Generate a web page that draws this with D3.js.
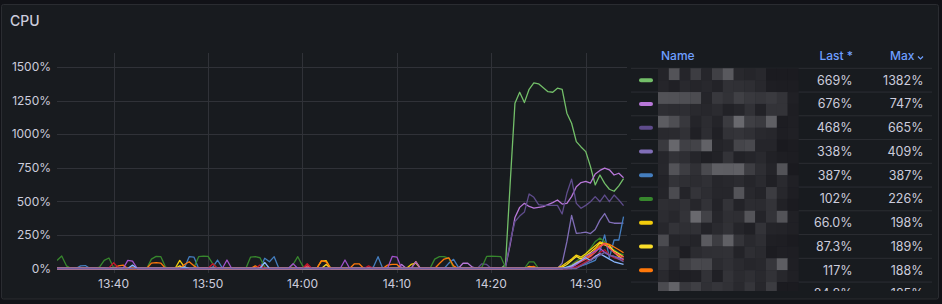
<!DOCTYPE html>
<html><head><meta charset="utf-8">
<script src="https://cdn.jsdelivr.net/npm/d3@7"></script>
<style>
html,body{margin:0;padding:0;background:#111217;}
svg{display:block;font-family:Inter,"Noto Sans",sans-serif;}
</style></head><body>
<svg id="c" width="942" height="304"></svg>
<script>
// ---------------- data ----------------
const panelTitle = "CPU";
const startTime = new Date(2024, 0, 1, 13, 34, 0);
const endTime = new Date(2024, 0, 1, 14, 34, 22);
const stepSeconds = 30;
const yTicks = [0, 250, 500, 750, 1000, 1250, 1500];
const xTicks = ["13:40", "13:50", "14:00", "14:10", "14:20", "14:30"];
const legendHeaders = ["Name", "Last *", "Max"];

// 121 samples each, 30 s apart, 13:34:00 .. 14:34:00 (percent)
const s1 = [
 0,0,0,0,0,0,0,0,0,0, 0,0,0,0,0,0,0,0,0,0, 0,0,0,0,0,0,0,0,0,0,
 0,0,0,0,0,0,0,0,0,0, 0,0,0,0,0,0,0,0,0,0, 0,0,0,0,0,0,0,0,0,0,
 0,0,0,0,0,0,0,0,0,0, 0,0,0,0,0,0,0,0,0,0, 0,0,0,0,0,0,0,0,0,0,
 0,0,0,0,0,30,640,1230,1312,1235, 1334,1382,1375,1346,1316,1312,1342,1334,1156,1081,
 944,905,870,758,622,696,634,590,575,615, 669];
const s2 = [
 0,0,0,0,0,0,0,0,0,0, 0,0,0,0,0,0,0,0,0,0, 0,0,0,0,0,0,0,0,0,0,
 0,0,0,0,0,0,0,0,0,0, 0,0,0,0,0,0,0,0,0,0, 0,0,0,0,0,0,0,0,0,0,
 0,0,0,0,0,0,0,0,0,0, 0,0,0,30,0,0,0,0,0,0, 0,0,0,0,0,0,39,39,10,0,
 0,0,0,0,0,10,180,380,455,485, 462,450,455,460,475,490,510,480,485,535,
 609,640,648,636,704,730,747,735,696,709, 676];
const s3 = [
 0,0,0,0,0,0,0,0,0,0, 0,0,0,0,0,0,0,0,0,0, 0,0,0,0,0,0,0,0,0,0,
 0,0,0,0,0,0,0,0,0,0, 0,0,0,0,0,0,0,0,0,0, 0,0,0,0,0,0,0,0,0,0,
 0,0,0,0,0,0,0,0,0,0, 0,0,0,0,0,0,0,0,0,0, 0,0,0,0,0,0,0,0,0,0,
 35,30,0,0,0,10,200,350,390,420, 555,530,475,470,470,470,470,406,560,665,
 485,448,470,497,535,497,547,497,547,510, 468];
const s4 = [
 0,0,0,0,0,0,0,0,0,0, 0,0,0,0,0,0,0,0,0,0, 0,0,0,0,0,0,0,0,0,0,
 0,0,0,0,0,0,0,0,0,0, 0,0,0,0,0,0,0,0,0,0, 0,0,0,0,0,0,0,0,0,0,
 0,0,0,0,0,0,0,0,0,0, 0,0,0,0,0,0,0,0,0,0, 0,0,0,0,0,0,0,0,0,0,
 0,0,0,0,0,0,0,0,0,0, 0,0,0,0,0,0,0,40,200,395,
 262,265,270,260,290,360,409,345,337,337, 338];
const s5 = [
 0,0,0,0,0,20,22,0,0,0, 0,0,0,0,0,0,0,0,0,0, 0,0,0,0,0,0,0,5,88,85,
 0,0,0,10,63,5,0,0,0,0, 0,0,0,0,76,50,88,0,0,0, 0,0,0,0,0,0,0,0,0,0,
 0,0,0,0,0,0,0,10,88,0, 0,0,0,0,0,0,0,0,0,0, 0,0,0,40,68,10,0,0,0,0,
 0,0,0,0,0,0,0,0,0,0, 0,0,0,0,0,0,0,0,0,0,
 10,20,30,45,60,130,250,80,212,212, 387];
const s6 = [
 60,93,20,0,0,0,0,0,0,10, 60,78,5,0,0,0,0,0,0,0, 70,90,88,10,0,0,0,0,0,5,
 88,92,90,35,0,0,0,0,0,0, 0,85,88,80,10,0,0,0,0,0, 30,88,20,0,0,0,0,0,0,0,
 0,0,0,0,0,0,0,0,0,0, 0,0,0,0,0,0,0,0,0,0, 70,88,88,75,5,0,0,0,0,0,
 10,90,92,90,88,10,0,0,0,0, 50,50,0,0,0,0,0,0,10,30,
 55,80,110,150,200,226,200,160,140,115, 102];
const s7 = [
 0,0,0,0,0,0,0,0,0,0, 0,0,0,0,0,0,0,0,0,0, 0,0,0,0,0,0,60,10,0,0,
 0,0,0,0,0,0,0,0,0,0, 0,0,0,0,0,0,0,0,0,0, 0,0,0,0,0,0,55,58,0,0,
 0,0,0,0,0,0,0,0,0,0, 0,0,0,0,0,30,40,0,0,0, 0,0,0,0,0,0,0,0,0,0,
 0,0,0,0,0,0,0,0,0,0, 10,5,0,0,0,0,5,20,45,70,
 100,85,110,140,170,198,185,175,120,90, 66];
const s8 = [
 0,0,0,0,0,0,0,0,0,0, 0,0,0,0,0,0,0,0,0,0, 0,0,0,0,0,0,20,0,0,0,
 0,0,0,0,0,0,0,0,0,0, 0,0,0,0,0,0,0,0,0,0, 0,0,0,0,0,0,0,30,0,0,
 0,0,0,0,0,0,0,0,0,0, 0,0,0,0,0,0,51,0,0,0, 0,0,0,0,0,0,0,0,0,0,
 0,0,0,0,0,0,0,0,0,0, 15,10,0,0,0,0,0,10,30,60,
 90,70,95,120,150,189,175,160,130,110, 87.3];
const s9 = [
 0,0,0,0,0,0,0,0,0,0, 0,0,0,20,25,0,0,0,0,0, 40,43,40,0,0,0,0,30,50,20,
 0,0,0,0,0,0,0,0,0,0, 0,0,20,0,0,0,0,0,0,0, 0,0,0,0,0,0,58,50,0,0,
 0,0,0,35,35,0,0,0,0,0, 25,30,30,0,0,0,0,0,0,0, 0,37,70,80,20,0,0,0,0,0,
 0,0,0,0,0,0,0,0,0,0, 10,15,0,0,0,0,0,0,5,20,
 45,60,80,100,140,170,188,180,160,140, 117];
const s10 = [
 0,0,0,0,0,0,0,0,0,0, 0,0,0,0,0,0,0,0,0,0, 0,0,0,0,0,0,0,0,0,0,
 0,0,0,0,0,0,0,0,0,0, 0,0,0,0,0,0,0,0,0,0, 0,0,0,20,0,0,0,0,0,0,
 0,0,0,0,0,0,0,0,0,0, 0,0,0,0,0,0,0,0,0,0, 0,0,0,0,0,0,0,0,0,0,
 0,0,0,0,0,0,0,0,0,0, 0,0,0,0,0,0,0,0,0,10,
 30,50,70,90,120,160,185,150,120,100, 84.8];
const s11 = [
 0,0,0,0,0,0,0,0,0,0, 0,5,43,5,0,0,0,0,0,0, 0,0,0,0,0,0,0,0,0,0,
 0,0,0,35,0,0,0,0,0,0, 0,0,0,26,0,0,0,0,0,0, 0,0,0,35,0,0,0,0,0,0,
 0,0,0,0,0,0,20,0,0,0, 0,0,0,0,0,0,0,0,0,0, 0,0,0,0,0,0,0,0,0,0,
 0,0,0,0,0,0,0,0,0,0, 0,0,0,0,0,0,0,0,0,0,
 10,30,50,70,90,120,140,100,80,70, 60];
const s12 = [
 0,0,0,0,0,0,0,0,0,0, 0,0,0,0,0,60,55,0,0,0, 0,0,0,0,0,0,0,0,0,0,
 0,0,0,0,0,0,63,0,0,0, 0,0,0,0,0,0,0,0,0,0, 36,0,0,0,0,0,0,0,0,0,
 0,63,0,0,0,0,0,0,0,0, 0,90,85,0,0,0,50,0,0,0, 0,0,0,0,0,0,0,0,0,0,
 0,0,0,0,0,0,0,0,0,0, 0,0,0,0,0,0,0,0,0,10,
 30,60,90,110,130,150,120,100,90,80, 70];
const s13 = [
 0,0,0,0,0,0,0,0,0,0, 0,0,0,0,0,0,25,0,0,0, 0,0,0,0,0,0,0,10,0,0,
 0,0,0,0,0,0,0,0,0,0, 0,0,0,0,45,0,0,0,0,0, 0,0,0,0,0,0,0,0,0,0,
 0,0,0,0,0,0,0,0,0,0, 0,0,0,0,0,0,0,0,0,0, 0,0,0,0,0,0,0,0,0,0,
 0,0,0,0,0,0,0,0,0,0, 0,0,0,0,0,0,0,0,10,20,
 40,60,80,60,90,110,90,70,50,40, 30];
const s14 = [
 0,0,0,0,0,0,0,0,0,0, 0,0,0,0,0,0,0,0,0,0, 0,0,0,0,0,0,0,0,0,0,
 0,0,0,0,0,0,0,0,0,0, 0,0,0,0,0,0,0,0,0,0, 0,0,0,0,0,0,0,0,0,0,
 0,0,0,0,0,0,0,0,0,0, 0,0,0,0,0,0,0,0,0,0, 0,0,0,0,0,0,0,0,0,0,
 0,0,0,0,0,0,0,0,0,0, 0,0,0,0,0,0,0,0,0,0,
 0,20,40,60,80,100,120,100,90,70, 50];

const seriesValues = [s1, s2, s3, s4, s5, s6, s7, s8, s9, s10, s11, s12, s13, s14];
const seriesColors = ["#73BF69", "#B877D9", "#5F4C8C", "#806EB7", "#447EBF", "#37872D", "#F2CC0C",
  "#FADE2A", "#FF780A", "#F2495C", "#C4162A", "#A352CC", "#8AB8FF", "#705DA0"];

// ---------------- drawing ----------------
const svg = d3.select("#c");
const plot = {l: 57, r: 627, t: 53, b: 273};
const textCol = "#ccccdc", gridCol = "#303238";

svg.append("rect").attr("x", 1.5).attr("y", 4.5).attr("width", 937).attr("height", 294.5)
  .attr("rx", 2).attr("fill", "#181b1f").attr("stroke", "#2a2c31");

svg.append("text").attr("x", 10).attr("y", 26).text(panelTitle)
  .attr("fill", textCol).attr("font-size", 14).attr("font-weight", 500);

const x = d3.scaleTime().domain([startTime, endTime]).range([plot.l, plot.r]);
const y = d3.scaleLinear().domain([0, 1500]).range([268.5, 67]);
const tParse = s => { const [h, m] = s.split(":").map(Number); return new Date(2024, 0, 1, h, m, 0); };

// grid
const g = svg.append("g");
g.selectAll("line.h").data(yTicks).join("line")
  .attr("x1", plot.l).attr("x2", plot.r).attr("y1", d => Math.round(y(d)) + 0.5).attr("y2", d => Math.round(y(d)) + 0.5)
  .attr("stroke", gridCol);
g.selectAll("line.v").data(xTicks).join("line")
  .attr("x1", d => Math.round(x(tParse(d))) + 0.5).attr("x2", d => Math.round(x(tParse(d))) + 0.5)
  .attr("y1", plot.t).attr("y2", plot.b).attr("stroke", gridCol);

// axes labels
svg.selectAll("text.yl").data(yTicks).join("text")
  .attr("x", 51).attr("y", d => y(d)).attr("dy", "0.35em").attr("text-anchor", "end")
  .attr("fill", textCol).attr("font-size", 12).text(d => d + "%");
svg.selectAll("text.xl").data(xTicks).join("text")
  .attr("x", d => x(tParse(d))).attr("y", 284).attr("dy", "0.35em").attr("text-anchor", "middle")
  .attr("fill", textCol).attr("font-size", 12).text(d => d);

// lines
svg.append("clipPath").attr("id", "pc").append("rect")
  .attr("x", plot.l).attr("y", plot.t).attr("width", plot.r - plot.l).attr("height", plot.b - plot.t);
const line = d3.line()
  .x((d, i) => x(new Date(startTime.getTime() + i * stepSeconds * 1000)))
  .y(d => y(d));
const drawOrder = d3.range(seriesValues.length);
svg.append("g").attr("clip-path", "url(#pc)")
  .selectAll("path").data(drawOrder).join("path")
  .attr("d", k => line(seriesValues[k]))
  .attr("fill", "none").attr("stroke", k => seriesColors[k])
  .attr("stroke-width", 1.3).attr("stroke-linejoin", "round");

// legend table
const fmt = v => v >= 100 ? Math.round(v) + "%" : v.toFixed(1) + "%";
const rows = seriesValues.map((v, k) => ({k, last: v[v.length - 1], max: d3.max(v)}));
const sorted = d3.sort(rows, (a, b) => b.max - a.max);
const rowH = 23.75, row0 = 68.3;
const lg = svg.append("g");
svg.append("clipPath").attr("id", "lc").append("rect")
  .attr("x", 628).attr("y", 40).attr("width", 310).attr("height", 251);
const lb = lg.append("g").attr("clip-path", "url(#lc)");

lg.append("text").attr("x", 661).attr("y", 56).attr("dy", "0.35em").text(legendHeaders[0])
  .attr("fill", "#6e9fff").attr("font-size", 12).attr("font-weight", 500);
lg.append("text").attr("x", 853).attr("y", 56).attr("dy", "0.35em").attr("text-anchor", "end").text(legendHeaders[1])
  .attr("fill", "#6e9fff").attr("font-size", 12).attr("font-weight", 500);
lg.append("text").attr("x", 914.5).attr("y", 56).attr("dy", "0.35em").attr("text-anchor", "end").text(legendHeaders[2])
  .attr("fill", "#6e9fff").attr("font-size", 12).attr("font-weight", 500);
lg.append("path").attr("d", "M918,56.5 L920.5,59 L923,56.5").attr("fill", "none")
  .attr("stroke", "#6e9fff").attr("stroke-width", 1.2);

lb.selectAll("line.sep").data(d3.range(10)).join("line")
  .attr("x1", 631).attr("x2", 932).attr("y1", i => row0 + i * rowH).attr("y2", i => row0 + i * rowH)
  .attr("stroke", "#2c2e33");

const rg = lb.selectAll("g.row").data(sorted.slice(0, 10)).join("g")
  .attr("transform", (d, i) => `translate(0,${row0 + i * rowH + rowH / 2})`);
rg.append("rect").attr("x", 639).attr("y", -2).attr("width", 14).attr("height", 4).attr("rx", 2)
  .attr("fill", d => seriesColors[d.k]);
rg.append("text").attr("x", 852.5).attr("dy", "0.35em").attr("text-anchor", "end")
  .attr("fill", textCol).attr("font-size", 12.5).text(d => fmt(d.last));
rg.append("text").attr("x", 923.5).attr("dy", "0.35em").attr("text-anchor", "end")
  .attr("fill", textCol).attr("font-size", 12.5).text(d => fmt(d.max));

// pixelated (redacted) series names
const hsh = (a, b) => { const s = Math.sin(a * 127.1 + b * 311.7) * 43758.5453; return s - Math.floor(s); };
const cellW = 10.8, cellH = rowH / 2, nCols = 13, nSub = 20;
const cells = [];
for (let r = 0; r < nSub; r++) for (let c = 0; c < nCols; c++) cells.push({r, c});
lb.selectAll("rect.mz").data(cells).join("rect")
  .attr("x", d => 658 + d.c * cellW).attr("y", d => row0 + d.r * cellH)
  .attr("width", cellW + 0.3).attr("height", cellH + 0.3)
  .attr("fill", d => {
    const h = hsh(d.r, d.c), len = 10 + Math.floor(hsh(Math.floor(d.r / 2), 7) * 3);
    let v;
    if (d.c >= len) v = 26 + h * 8;
    else if (d.r % 2 === 0) v = 36 + h * h * 70;
    else v = 30 + h * 22;
    v = Math.round(v);
    return `rgb(${v},${v},${v + 5})`;
  });
</script>
</body></html>
